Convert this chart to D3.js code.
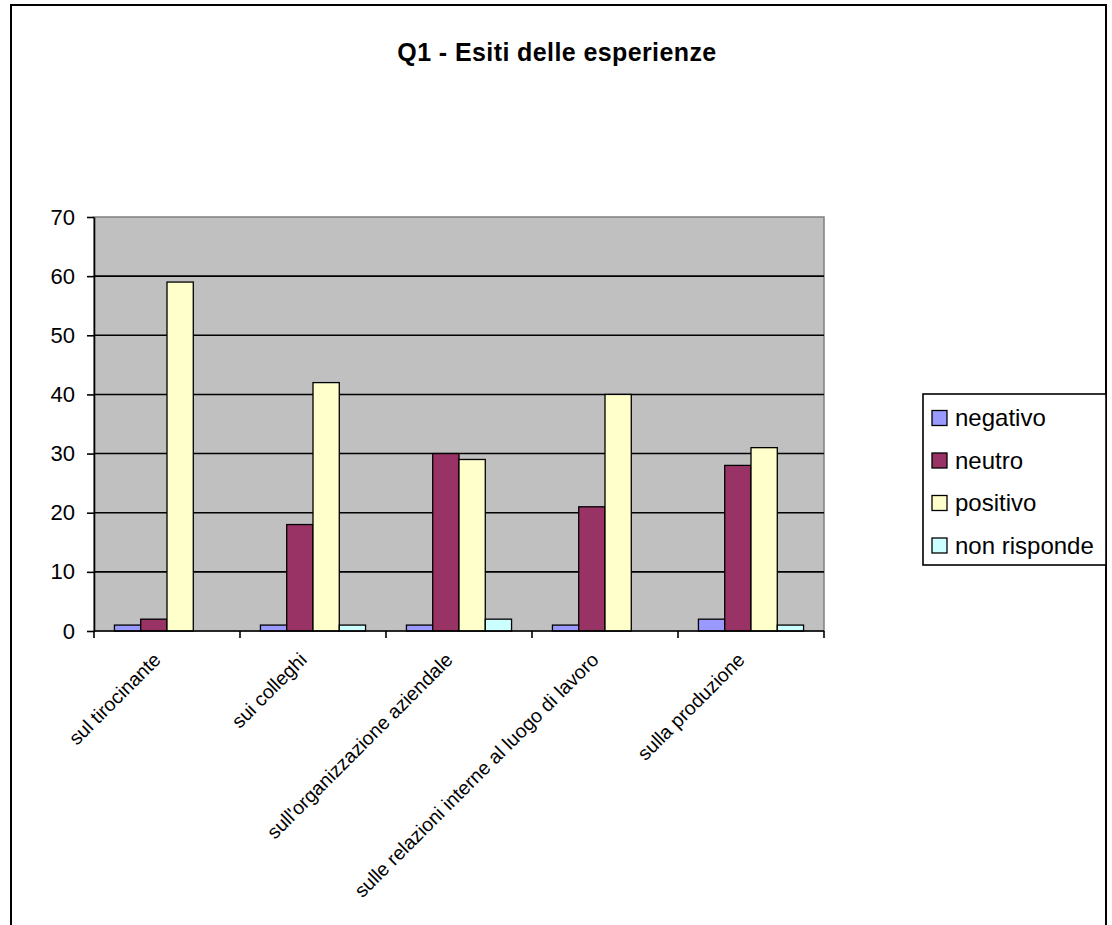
<!DOCTYPE html>
<html>
<head>
<meta charset="utf-8">
<script src="https://cdn.jsdelivr.net/npm/d3@7"></script>
<style>
  html, body { margin: 0; padding: 0; background: #fff; }
  svg { display: block; font-family: Arial, "Liberation Sans", sans-serif; }
</style>
</head>
<body>
<svg id="chart" width="1112" height="925"></svg>
<script>
const title = "Q1 - Esiti delle esperienze";
const categories = [
  "sul tirocinante",
  "sui colleghi",
  "sull'organizzazione aziendale",
  "sulle relazioni interne al luogo di lavoro",
  "sulla produzione"
];
const seriesNames = ["negativo", "neutro", "positivo", "non risponde"];
const negativo = [1, 1, 1, 1, 2];
const neutro = [2, 18, 30, 21, 28];
const positivo = [59, 42, 29, 40, 31];
const nonRisponde = [0, 1, 2, 0, 1];
const seriesColors = ["#9999FF", "#993366", "#FFFFCC", "#CCFFFF"];
const yTicks = [0, 10, 20, 30, 40, 50, 60, 70];

const seriesValues = [negativo, neutro, positivo, nonRisponde];

const svg = d3.select("#chart");

// outer chart border
svg.append("rect")
  .attr("x", 11).attr("y", 5)
  .attr("width", 1095).attr("height", 1000)
  .attr("fill", "#fff").attr("stroke", "#000").attr("stroke-width", 2);

// title
svg.append("text")
  .attr("x", 557).attr("y", 61)
  .attr("text-anchor", "middle")
  .attr("font-size", 25).attr("font-weight", "bold")
  .attr("letter-spacing", 0.4)
  .text(title);

const plot = { left: 94, right: 824, top: 217, bottom: 631 };

const x0 = d3.scaleBand().domain(categories).range([plot.left, plot.right]).padding(0);
const bw = x0.bandwidth();
const x1 = d3.scaleBand().domain(seriesNames).range([bw * 0.14, bw * 0.86]).padding(0);
const y = d3.scaleLinear().domain([0, 70]).range([plot.bottom, plot.top]);

// plot background
svg.append("rect")
  .attr("x", plot.left).attr("y", plot.top)
  .attr("width", plot.right - plot.left).attr("height", plot.bottom - plot.top)
  .attr("fill", "#C0C0C0").attr("stroke", "#808080").attr("stroke-width", 1.5);

// gridlines
svg.append("g").selectAll("line")
  .data(yTicks.filter(t => t > 0 && t < 70))
  .join("line")
  .attr("x1", plot.left).attr("x2", plot.right)
  .attr("y1", d => y(d)).attr("y2", d => y(d))
  .attr("stroke", "#000").attr("stroke-width", 1.6);

// bars
const groups = svg.append("g").selectAll("g")
  .data(categories)
  .join("g")
  .attr("transform", d => `translate(${x0(d)},0)`);

groups.selectAll("rect")
  .data((d, i) => seriesNames.map((s, j) => ({ s, j, v: seriesValues[j][i] })).filter(e => e.v > 0))
  .join("rect")
  .attr("x", d => x1(d.s))
  .attr("width", x1.bandwidth())
  .attr("y", d => y(d.v))
  .attr("height", d => y(0) - y(d.v))
  .attr("fill", d => seriesColors[d.j])
  .attr("stroke", "#000").attr("stroke-width", 1.3);

// y axis
const yAxis = d3.axisLeft(y).tickValues(yTicks).tickSize(7).tickSizeOuter(0).tickPadding(12);
const yg = svg.append("g").attr("transform", `translate(${plot.left},0)`).call(yAxis);
yg.select(".domain").attr("stroke", "#000").attr("stroke-width", 1.6);
yg.selectAll(".tick line").attr("stroke", "#000").attr("stroke-width", 1.6);
yg.selectAll(".tick text").attr("font-size", 22).attr("fill", "#000")
  .attr("font-family", "Arial, 'Liberation Sans', sans-serif");

// x axis line and ticks at band boundaries
svg.append("line")
  .attr("x1", plot.left).attr("x2", plot.right)
  .attr("y1", plot.bottom).attr("y2", plot.bottom)
  .attr("stroke", "#000").attr("stroke-width", 1.6);
const bounds = categories.map(c => x0(c)).concat([x0(categories[categories.length - 1]) + bw]);
svg.append("g").selectAll("line")
  .data(bounds)
  .join("line")
  .attr("x1", d => d).attr("x2", d => d)
  .attr("y1", plot.bottom).attr("y2", plot.bottom + 7)
  .attr("stroke", "#000").attr("stroke-width", 1.6);

// x labels
svg.append("g").selectAll("text")
  .data(categories)
  .join("text")
  .attr("transform", d => `translate(${x0(d) + bw / 2 - 5},${plot.bottom + 30}) rotate(-45)`)
  .attr("text-anchor", "end")
  .attr("font-size", 19.5)
  .attr("fill", "#000")
  .text(d => d);

// legend
const legend = svg.append("g");
legend.append("rect")
  .attr("x", 923).attr("y", 394).attr("width", 183).attr("height", 171)
  .attr("fill", "#fff").attr("stroke", "#000").attr("stroke-width", 1.6);
const li = legend.selectAll("g.item")
  .data(seriesNames)
  .join("g")
  .attr("class", "item")
  .attr("transform", (d, i) => `translate(932,${418 + i * 42.5})`);
li.append("rect")
  .attr("x", 0).attr("y", -7.5).attr("width", 15).attr("height", 15)
  .attr("fill", (d, i) => seriesColors[i]).attr("stroke", "#000").attr("stroke-width", 1.3);
li.append("text")
  .attr("x", 23).attr("y", 0).attr("dy", "0.35em")
  .attr("font-size", 24).attr("fill", "#000")
  .text(d => d);
</script>
</body>
</html>
